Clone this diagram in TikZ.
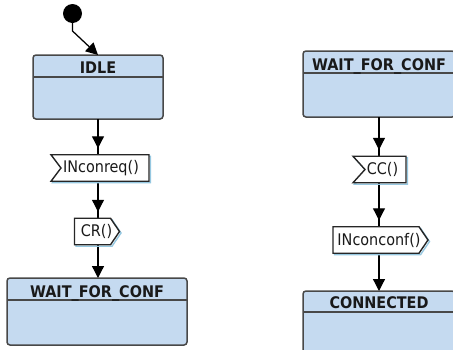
\documentclass[tikz,border=0pt]{standalone}
\usepackage{fontspec}
\newfontfamily\diagfont{DejaVu Sans}[FakeStretch=0.9]
\usetikzlibrary{arrows.meta,calc}
\definecolor{statefill}{RGB}{197,218,240}
\definecolor{stateline}{RGB}{72,72,72}
\definecolor{sigshadow}{RGB}{150,200,225}
\newcommand{\notchshape}[4]{%
  \path[#1] ([shift={(#4,#4)}]#2.north west) -- ([shift={(#4,#4)}]#2.north east)
    -- ([shift={(#4,#4)}]#2.south east) -- ([shift={(#4,#4)}]#2.south west)
    -- ([shift={(#3+#4,#4)}]#2.west) -- cycle;}
\newcommand{\pointshape}[4]{%
  \path[#1] ([shift={(#4,#4)}]#2.north west) -- ([shift={(-#3+#4,#4)}]#2.north east)
    -- ([shift={(#4,#4)}]#2.east) -- ([shift={(-#3+#4,#4)}]#2.south east)
    -- ([shift={(#4,#4)}]#2.south west) -- cycle;}
\begin{document}
\begin{tikzpicture}[x=1pt,y=-1pt,
  every node/.style={outer sep=0pt, inner sep=0pt},
  statebox/.style={rectangle, draw=stateline, line width=1.5pt, fill=statefill, rounded corners=3pt},
  headline/.style={draw=stateline, line width=1.5pt},
  headtext/.style={font=\diagfont\fontsize{16}{18}\selectfont\bfseries, anchor=base, text=black!90},
  sigtext/.style={font=\diagfont\fontsize{16}{18}\selectfont, text=black!90},
  sigbox/.style={rectangle, draw=none, minimum height=26.5pt},
  sigline/.style={draw=black!85, line width=1.4pt, fill=white, line join=miter},
  sigshade/.style={draw=sigshadow, line width=1.4pt},
  flow/.style={draw=black, line width=1.25pt},
  tip/.style={-{Triangle[length=12pt,width=12pt]}},
  gaptip/.style={-{Triangle[length=12pt,width=12pt]}, shorten >=6.5pt}
]
\useasboundingbox (0,0) rectangle (453,349);
\clip (0,0) rectangle (453,349);

% ---------- left column ----------
\node[circle, fill=black, minimum size=19pt] (init) at (72.5,13.5) {};
\node[statebox, minimum width=130pt, minimum height=64pt] (idle) at (98,87) {};
\draw[headline] ([yshift=-22pt]idle.north west) -- ([yshift=-22pt]idle.north east);
\node[headtext] (idlet) at ([yshift=-18pt]idle.north) {IDLE};

\coordinate (bend) at (72.5,31);
\draw[flow, tip] (init.south) -- (bend) -- (idle.north);

\node[sigbox, minimum width=98pt] (inreq) at (100,168) {};
\node[sigbox, minimum width=45pt] (cr) at (97,231.5) {};
\node[statebox, minimum width=180pt, minimum height=67pt] (lwait) at (97,311.5) {};
\draw[headline] ([yshift=-22pt]lwait.north west) -- ([yshift=-22pt]lwait.north east);
\node[headtext] (lwaitt) at ([yshift=-19pt]lwait.north) {WAIT\_FOR\_CONF};

\draw[flow] (idle.south) -- (idle.south |- inreq.north);
\draw[flow, gaptip] (idle.south) -- (idle.south |- inreq.north);
\draw[flow] (idle.south |- inreq.south) -- (idle.south |- cr.north);
\draw[flow, gaptip] (idle.south |- inreq.south) -- (idle.south |- cr.north);
\draw[flow, tip] (idle.south |- cr.south) -- (idle.south |- lwait.north);

\notchshape{sigshade}{inreq}{10}{1.5}
\notchshape{sigline}{inreq}{10}{0}
\node[sigtext] (inreqt) at (101,168) {INconreq()};
\pointshape{sigshade}{cr}{9}{1.5}
\pointshape{sigline}{cr}{9}{0}
\node[sigtext] (crt) at (96.5,231.5) {CR()};

% ---------- right column ----------
\node[statebox, minimum width=152pt, minimum height=66pt] (rwait) at (379,84) {};
\draw[headline] ([yshift=-22pt]rwait.north west) -- ([yshift=-22pt]rwait.north east);
\node[headtext] (rwaitt) at ([yshift=-19pt]rwait.north) {WAIT\_FOR\_CONF};

\node[sigbox, minimum width=53pt] (cc) at (379.5,169.5) {};
\node[sigbox, minimum width=95pt] (inconf) at (380.5,240) {};
\node[statebox, minimum width=152pt, minimum height=70pt] (conn) at (379,326) {};
\draw[headline] ([yshift=-21pt]conn.north west) -- ([yshift=-21pt]conn.north east);
\node[headtext] (connt) at ([yshift=-17.5pt]conn.north) {CONNECTED};

\draw[flow] (rwait.south) -- (rwait.south |- cc.north);
\draw[flow, gaptip] (rwait.south) -- (rwait.south |- cc.north);
\draw[flow] (rwait.south |- cc.south) -- (rwait.south |- inconf.north);
\draw[flow, gaptip] (rwait.south |- cc.south) -- (rwait.south |- inconf.north);
\draw[flow, tip] (rwait.south |- inconf.south) -- (rwait.south |- conn.north);

\notchshape{sigshade}{cc}{12}{1.5}
\notchshape{sigline}{cc}{12}{0}
\node[sigtext] (cct) at (382.5,169.5) {CC()};
\pointshape{sigshade}{inconf}{9}{1.5}
\pointshape{sigline}{inconf}{9}{0}
\node[sigtext] (inconft) at (379,240) {INconconf()};
\end{tikzpicture}
\end{document}
